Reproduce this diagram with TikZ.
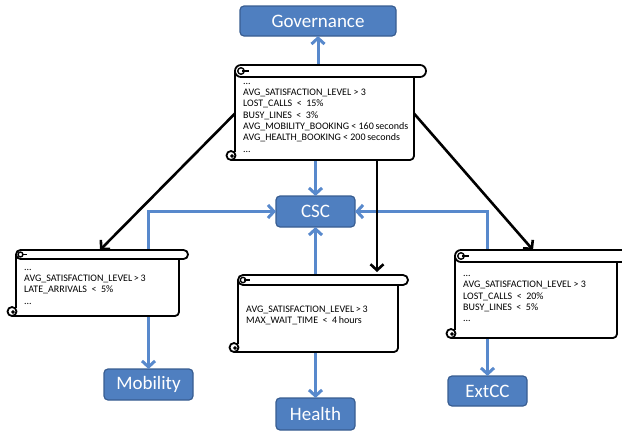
\documentclass[tikz,border=0pt]{standalone}
\usepackage{fontspec}
\setmainfont{Carlito}
\usetikzlibrary{arrows.meta,calc}
\definecolor{boxblue}{RGB}{79,127,192}
\definecolor{boxedge}{RGB}{56,93,145}
\definecolor{linkblue}{RGB}{88,137,204}
\tikzset{
  govbox/.style={rounded corners=4pt, fill=boxblue, draw=boxedge, line width=1.2pt,
    text=white, font=\fontsize{19}{22}\selectfont, inner sep=0pt, outer sep=0pt},
  scrollbox/.style={draw=none, inner sep=0pt, outer sep=0pt},
  scrl/.style={draw=black, line width=1.8pt, line join=round},
  scrtext/.style={inner sep=0pt, align=left, font=\fontsize{10}{11.3}\selectfont},
  blarrow/.style={draw=linkblue, line width=3pt, -{Straight Barb[length=6pt,width=13pt]}},
  blline/.style={draw=linkblue, line width=3pt},
  bkarrow/.style={draw=black, line width=2.6pt, -{Straight Barb[length=6pt,width=13pt]}}
}
\newcommand\scrolldraw[2]{%
  \pgfmathsetmacro\scrH{#2}%
  \pgfmathsetmacro\scrR{#2/2}%
  \fill[white] ([yshift=-\scrR pt]#1.north west) rectangle ([xshift=-\scrH pt]#1.south east);
  \draw[scrl] ([yshift=-\scrR pt]#1.north west) -- ([yshift=8pt]#1.south west);
  \draw[scrl] ([xshift=-4pt]#1.south west) -- ([xshift=-\scrH pt-4pt]#1.south east)
     to[out=0,in=-90] ([shift={(-\scrH pt,4pt)}]#1.south east)
     -- ([shift={(-\scrH pt,-\scrH pt)}]#1.north east);
  \filldraw[scrl, fill=white, rounded corners=0.49*#2 pt] (#1.north west) rectangle ([yshift=-\scrH pt]#1.north east);
  \draw[scrl, line width=1.4pt] ([shift={(\scrR pt,-\scrR pt)}]#1.north west) circle[radius=0.27*#2 pt];
  \draw[scrl, line width=1.4pt] ([shift={(\scrR pt+1.2pt,-\scrR pt)}]#1.north west) -- ([shift={(\scrH pt+2pt,-\scrR pt)}]#1.north west);
  \filldraw[scrl, fill=white] ([shift={(-4pt,4.5pt)}]#1.south west) circle[radius=4.5pt];
  \filldraw[black] ([shift={(-3pt,4pt)}]#1.south west) circle[radius=1.6pt];
}
\begin{document}
\begin{tikzpicture}[x=1pt,y=-1pt]
\useasboundingbox (0,0) rectangle (622,431);
\clip (0,0) rectangle (622,431);

% boxes
\node[govbox, minimum width=156pt, minimum height=30pt] (gov) at (318,21) {Governance};
\node[govbox, minimum width=79pt, minimum height=31pt] (csc) at (315.5,211.5) {CSC};
\node[govbox, minimum width=79pt, minimum height=32pt] (hea) at (315.5,414) {Health};
\node[govbox, minimum width=89pt, minimum height=31pt] (mob) at (148.5,384.5) {Mobility};
\node[govbox, minimum width=79pt, minimum height=30pt] (ext) at (487.5,391) {ExtCC};

% scroll frames
\node[scrollbox, minimum width=191pt, minimum height=95pt] (ts) at (330.5,112.5) {};
\node[scrollbox, minimum width=172pt, minimum height=66pt] (ls) at (102,283) {};
\node[scrollbox, minimum width=170pt, minimum height=77pt] (ms) at (323,313.5) {};
\node[scrollbox, minimum width=174pt, minimum height=88pt] (rs) at (542,294) {};

% blue connectors
\draw[blarrow] (ts.north -| gov.south) -- (gov.south);
\draw[blarrow] (ts.south -| csc.north) -- (csc.north);
\draw[blarrow] (ms.north -| csc.south) -- (csc.south);
\draw[blarrow] (ms.south -| hea.north) -- (hea.north);
\draw[blarrow] (ls.north -| mob.north) |- (csc.west);
\draw[blarrow] (ls.south -| mob.north) -- (mob.north);
\draw[blarrow] (rs.north -| ext.north) |- (csc.east);
\draw[blarrow] (rs.south -| ext.north) -- (ext.north);

\scrolldraw{ts}{12}
\scrolldraw{ls}{9}
\scrolldraw{ms}{10}
\scrolldraw{rs}{12}

% scroll texts
\node[scrtext, anchor=west] (tstx) at (243,116) {\strut...\\
AVG\_SATISFACTION\_LEVEL > 3\\
LOST\_CALLS~~<~~15\%\\
BUSY\_LINES~~<~~3\%\\
AVG\_MOBILITY\_BOOKING~<~160\,seconds\\
AVG\_HEALTH\_BOOKING~<~200\,seconds\\
...\strut};
\node[scrtext, anchor=west] (lstx) at (24,285) {\strut...\\
AVG\_SATISFACTION\_LEVEL\,>\,3\\
LATE\_ARRIVALS~~<~~5\%\\
...\strut};
\node[scrtext, anchor=west] (mstx) at (246,316) {\strut AVG\_SATISFACTION\_LEVEL\,>\,3\\
MAX\_WAIT\_TIME~~<~~4\,hours\strut};
\node[scrtext, anchor=west] (rstx) at (463,297) {\strut...\\
AVG\_SATISFACTION\_LEVEL > 3\\
LOST\_CALLS~~<~~20\%\\
BUSY\_LINES~~<~~5\%\\
...\strut};

% black connectors
\draw[bkarrow] ([yshift=-1pt]ts.west) -- ([xshift=-2pt]ls.north);
\draw[bkarrow] ([shift={(-12pt,-1pt)}]ts.east) -- ([xshift=-9pt]rs.north);
\draw[bkarrow] ([xshift=46.5pt]ts.south) -- ([shift={(54pt,3pt)}]ms.north);
\end{tikzpicture}
\end{document}
